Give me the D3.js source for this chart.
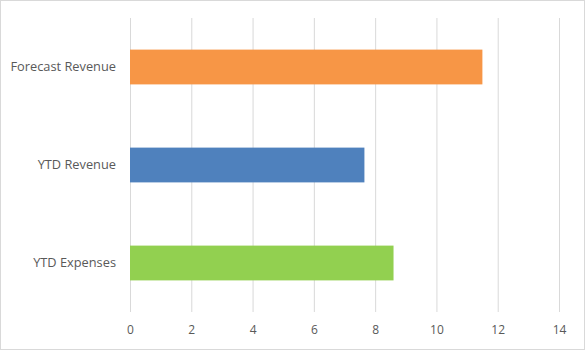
<!DOCTYPE html>
<html>
<head>
<meta charset="utf-8">
<script src="https://cdn.jsdelivr.net/npm/d3@7"></script>
<style>
  body { margin: 0; background: #fff; }
  svg { display: block; }
</style>
</head>
<body>
<figure id="chart" style="margin:0"></figure>
<script>
// chart data
const categories = ["Forecast Revenue", "YTD Revenue", "YTD Expenses"];
const values = [11.5, 7.65, 8.6];
const barColors = ["#F79646", "#4F81BD", "#92D050"];
const xTicks = [0, 2, 4, 6, 8, 10, 12, 14];

const width = 585, height = 350;
const margin = { top: 18, right: 26, bottom: 38, left: 130 };
const fontFamily = "'Open Sans', sans-serif";

const svg = d3.select("#chart").append("svg")
  .attr("width", width)
  .attr("height", height);

// outer border
svg.append("rect")
  .attr("x", 0.5).attr("y", 0.5)
  .attr("width", width - 1).attr("height", height - 1)
  .attr("fill", "#fff")
  .attr("stroke", "#d9d9d9");

const xScale = d3.scaleLinear()
  .domain([0, 14])
  .range([margin.left, width - margin.right]);

const yScale = d3.scaleBand()
  .domain(categories)
  .range([margin.top, height - margin.bottom])
  .paddingInner(0.645)
  .paddingOuter(0.3225);

// vertical gridlines
const xAxis = svg.append("g")
  .attr("transform", "translate(0," + (height - margin.bottom) + ")")
  .call(d3.axisBottom(xScale)
    .tickValues(xTicks)
    .tickSize(-(height - margin.top - margin.bottom))
    .tickPadding(13)
    .tickFormat(d3.format("d")))
  .attr("font-family", fontFamily)
  .attr("font-size", 12);
xAxis.select(".domain").remove();
xAxis.selectAll(".tick line")
  .attr("stroke", "#d9d9d9")
  .attr("stroke-width", 1);
xAxis.selectAll(".tick text")
  .attr("fill", "#595959");

// bars
svg.append("g").selectAll("rect")
  .data(categories).enter()
  .append("rect")
  .attr("x", xScale(0))
  .attr("y", (d) => yScale(d))
  .attr("width", (d, i) => xScale(values[i]) - xScale(0))
  .attr("height", yScale.bandwidth())
  .attr("fill", (d, i) => barColors[i]);

// category labels
const yAxis = svg.append("g")
  .attr("transform", "translate(" + margin.left + ",0)")
  .call(d3.axisLeft(yScale).tickSize(0).tickPadding(14))
  .attr("font-family", fontFamily)
  .attr("font-size", 12.8);
yAxis.select(".domain").remove();
yAxis.selectAll(".tick text")
  .attr("fill", "#595959");
</script>
</body>
</html>
